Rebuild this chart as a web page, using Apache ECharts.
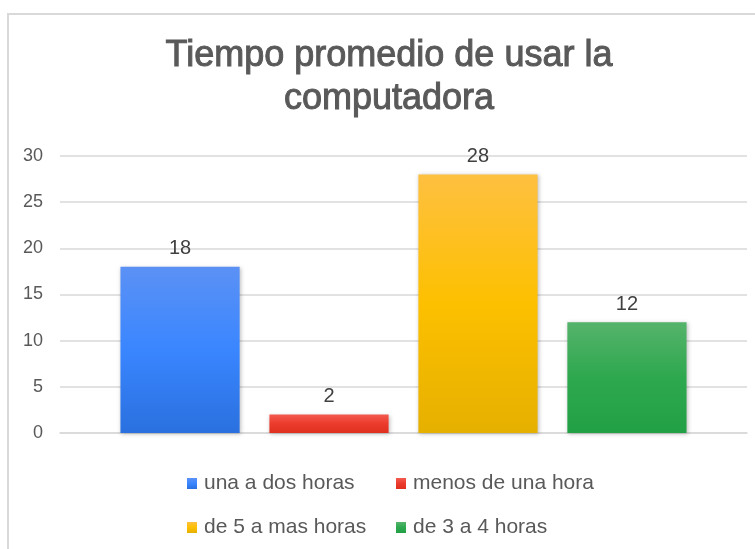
<!DOCTYPE html>
<html>
<head>
<meta charset="utf-8">
<script src="https://cdn.jsdelivr.net/npm/echarts@6/dist/echarts.min.js"></script>
<style>
    html, body { margin: 0; padding: 0; background: #fff; }
    #chart_main { width: 755px; height: 549px; }
</style>
</head>
<body>
<div id="chart_main"></div>
<script>
// datos del grafico
var titulo = 'Tiempo promedio de usar la\ncomputadora';
var categorias = ['una a dos horas', 'menos de una hora', 'de 5 a mas horas', 'de 3 a 4 horas'];
var valores = [18, 2, 28, 12];
var yMin = 0, yMax = 30, yPaso = 5;

// colores (arriba, medio, abajo)
var colores = [
    ['#5b91f5', '#3a86ff', '#2a70df'],
    ['#f25a4e', '#ec3b2c', '#de2f1f'],
    ['#fec040', '#fdc000', '#e6b000'],
    ['#55b36b', '#2ea84f', '#22a045']
];
var legendPos = [[187, 473], [396, 473], [187, 517], [396, 517]];

var fuente = '"Liberation Sans", Arial, sans-serif';

function gradiente(c) {
    return new echarts.graphic.LinearGradient(0, 0, 0, 1, [
        {offset: 0, color: c[0]},
        {offset: 0.5, color: c[1]},
        {offset: 1, color: c[2]}
    ]);
}

var myChart = echarts.init(document.getElementById('chart_main'), null, {renderer: 'canvas'});

var series = categorias.map(function (nombre, i) {
    return {
        name: nombre,
        type: 'bar',
        barGap: '25%',
        barCategoryGap: '17.6%',
        data: [valores[i]],
        itemStyle: {
            color: gradiente(colores[i]),
            shadowBlur: 4,
            shadowColor: 'rgba(0,0,0,0.25)',
            shadowOffsetX: 1,
            shadowOffsetY: 1
        },
        label: {
            show: true,
            position: 'top',
            distance: 8,
            fontFamily: fuente,
            fontSize: 20,
            color: '#404040'
        }
    };
});

var legends = categorias.map(function (nombre, i) {
    return {
        data: [nombre],
        left: legendPos[i][0],
        top: legendPos[i][1],
        padding: 0,
        itemWidth: 10,
        itemHeight: 11,
        selectedMode: false,
        icon: 'rect',
        textStyle: {
            fontFamily: fuente,
            fontSize: 21,
            color: '#595959',
            padding: [0, 0, 0, 2]
        }
    };
});

var option = {
    animation: false,
    backgroundColor: '#fff',
    title: {
        text: titulo,
        left: 389,
        top: 35,
        padding: 0,
        textAlign: 'center',
        textStyle: {
            fontFamily: fuente,
            fontSize: 36,
            fontWeight: 'normal',
            lineHeight: 43,
            color: '#595959',
            textBorderColor: '#595959',
            textBorderWidth: 1
        }
    },
    legend: legends,
    graphic: [{
        type: 'rect',
        shape: {x: 8, y: 14, width: 800, height: 600},
        style: {fill: 'none', stroke: '#d9d9d9', lineWidth: 2},
        silent: true,
        z: -1
    }],
    grid: {
        left: 60,
        right: 8,
        top: 156,
        bottom: 116,
        containLabel: false
    },
    xAxis: {
        type: 'category',
        data: [''],
        axisLine: {show: true, lineStyle: {color: '#d9d9d9', width: 1.5}},
        axisTick: {show: false},
        axisLabel: {show: false}
    },
    yAxis: {
        type: 'value',
        min: yMin,
        max: yMax,
        interval: yPaso,
        axisLine: {show: false},
        axisTick: {show: false},
        axisLabel: {
            margin: 17,
            fontFamily: fuente,
            fontSize: 18,
            color: '#595959'
        },
        splitLine: {lineStyle: {color: '#d9d9d9', width: 1.5}}
    },
    series: series
};

myChart.setOption(option);
</script>
</body>
</html>
